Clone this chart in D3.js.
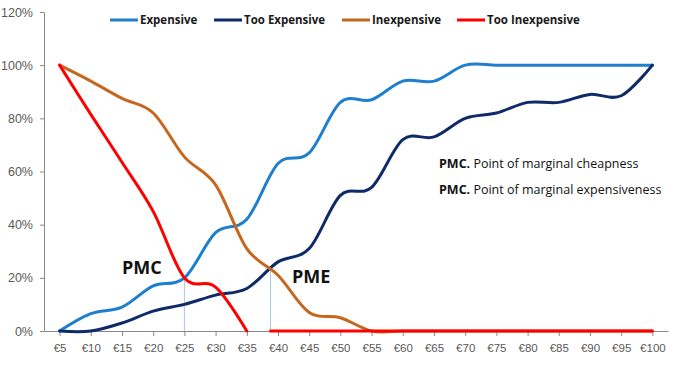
<!DOCTYPE html>
<html>
<head>
<meta charset="utf-8">
<script src="https://cdn.jsdelivr.net/npm/d3@7"></script>
<style>
  body { margin: 0; background: #fff; }
  svg { display: block; font-family: "Open Sans", sans-serif; }
  .axis path, .axis line { stroke: #898989; }
  .axis text { fill: #595959; font-size: 11.5px; }
</style>
</head>
<body>
<svg id="chart"></svg>
<script>
// price points (€)
const prices = [5, 10, 15, 20, 25, 30, 35, 40, 45, 50, 55, 60, 65, 70, 75, 80, 85, 90, 95, 100]

// cumulative share of respondents, %
const expensive =      [0, 6.5, 9, 17, 20, 37, 42, 63, 67, 86, 87, 94, 94, 100, 100, 100, 100, 100, 100, 100]
const tooExpensive =   [0, 0, 3, 7.5, 10, 13.5, 16, 26, 31, 51, 54, 72, 73, 80, 82, 86, 86, 89, 88.5, 100]
const inexpensive =    [100, 94, 87.5, 82, 65.5, 55, 31, 21, 7, 5, 0, 0, 0, 0, 0, 0, 0, 0, 0, 0]
const tooInexpensive = [100, 81.5, 63.5, 45, 20, 16.5, 0, 0, 0, 0, 0, 0, 0, 0, 0, 0, 0, 0, 0, 0]

// intersection points
const pmcPrice = 25, pmcValue = 20
const pmePrice = 38.8, pmeValue = 24

const yTicks = [0, 20, 40, 60, 80, 100, 120]

const series = [
    { name: "Expensive", values: expensive, color: "#1f7fcf" },
    { name: "Too Expensive", values: tooExpensive, color: "#0f2a68" },
    { name: "Inexpensive", values: inexpensive, color: "#c5671f" },
    { name: "Too Inexpensive", values: tooInexpensive, color: "#ff0000" }
]

const w = 683, h = 374
const mLeft = 44, mRight = 668, mTop = 12, mBottom = 331

const svg = d3.select("#chart")
    .attr("width", w)
    .attr("height", h)

const xScale = d3.scaleLinear()
    .domain([prices[0] - 2.5, prices[prices.length - 1] + 2.5])
    .range([mLeft, mRight])

const yScale = d3.scaleLinear()
    .domain([0, 120])
    .range([mBottom, mTop])

// axes
svg.append("g")
    .attr("class", "y axis")
    .attr("transform", `translate(${mLeft},0)`)
    .call(d3.axisLeft(yScale).tickValues(yTicks).tickFormat(d => d + "%").tickSize(4).tickSizeOuter(0).tickPadding(7))
    .call(g => g.selectAll("text").style("font-size", "12.5px"))

svg.append("g")
    .attr("class", "x axis")
    .attr("transform", `translate(0,${mBottom})`)
    .call(d3.axisBottom(xScale).tickValues(prices).tickFormat(d => "€" + d).tickSize(5).tickSizeOuter(0).tickPadding(8))

// reference lines at PMC / PME
const refs = [[pmcPrice, pmcValue], [pmePrice, pmeValue]]
svg.selectAll(".ref")
    .data(refs)
    .join("line")
    .attr("class", "ref")
    .attr("x1", d => xScale(d[0]))
    .attr("x2", d => xScale(d[0]))
    .attr("y1", yScale(0))
    .attr("y2", d => yScale(d[1]))
    .attr("stroke", "#a9c8e6")
    .attr("stroke-width", 1)

const line = d3.line()
    .defined(d => d[1] != null)
    .x(d => xScale(d[0]))
    .y(d => yScale(d[1]))
    .curve(d3.curveCardinal.tension(0))

series.forEach(s => {
    let pts = prices.map((p, i) => [p, s.values[i]])
    if (s.name == "Too Inexpensive") {
        // the zero segment picks up again at the PME price
        pts = pts.filter(d => d[0] <= 35)
            .concat([[pmePrice, null], [pmePrice, 0]])
            .concat(pts.filter(d => d[0] >= 40))
    }
    svg.append("path")
        .datum(pts)
        .attr("fill", "none")
        .attr("stroke", s.color)
        .attr("stroke-width", 3)
        .attr("stroke-linejoin", "round")
        .attr("stroke-linecap", "round")
        .attr("d", line)
})

// legend
const legendX = [110, 214, 342, 457]
const legend = svg.selectAll(".legend")
    .data(series)
    .join("g")
    .attr("class", "legend")
    .attr("transform", (d, i) => `translate(${legendX[i]},20)`)

legend.append("line")
    .attr("x1", 0).attr("x2", 28)
    .attr("stroke", d => d.color)
    .attr("stroke-width", 3)

legend.append("text")
    .attr("x", 30)
    .attr("dy", "0.35em")
    .style("font-size", "11.5px")
    .style("font-weight", "bold")
    .style("fill", "#1a1a1a")
    .text(d => d.name)

// annotations
svg.append("text")
    .attr("x", 122).attr("y", 274)
    .style("font-size", "18px").style("font-weight", "bold").style("fill", "#111")
    .text("PMC")

svg.append("text")
    .attr("x", 292).attr("y", 283)
    .style("font-size", "18px").style("font-weight", "bold").style("fill", "#111")
    .text("PME")

const notes = [["PMC.", " Point of marginal cheapness"], ["PMC.", " Point of marginal expensiveness"]]
notes.forEach((n, i) => {
    const t = svg.append("text")
        .attr("x", 439).attr("y", 168 + i * 26)
        .style("font-size", "12.5px").style("fill", "#111")
    t.append("tspan").style("font-weight", "bold").text(n[0])
    t.append("tspan").text(n[1])
})
</script>
</body>
</html>
